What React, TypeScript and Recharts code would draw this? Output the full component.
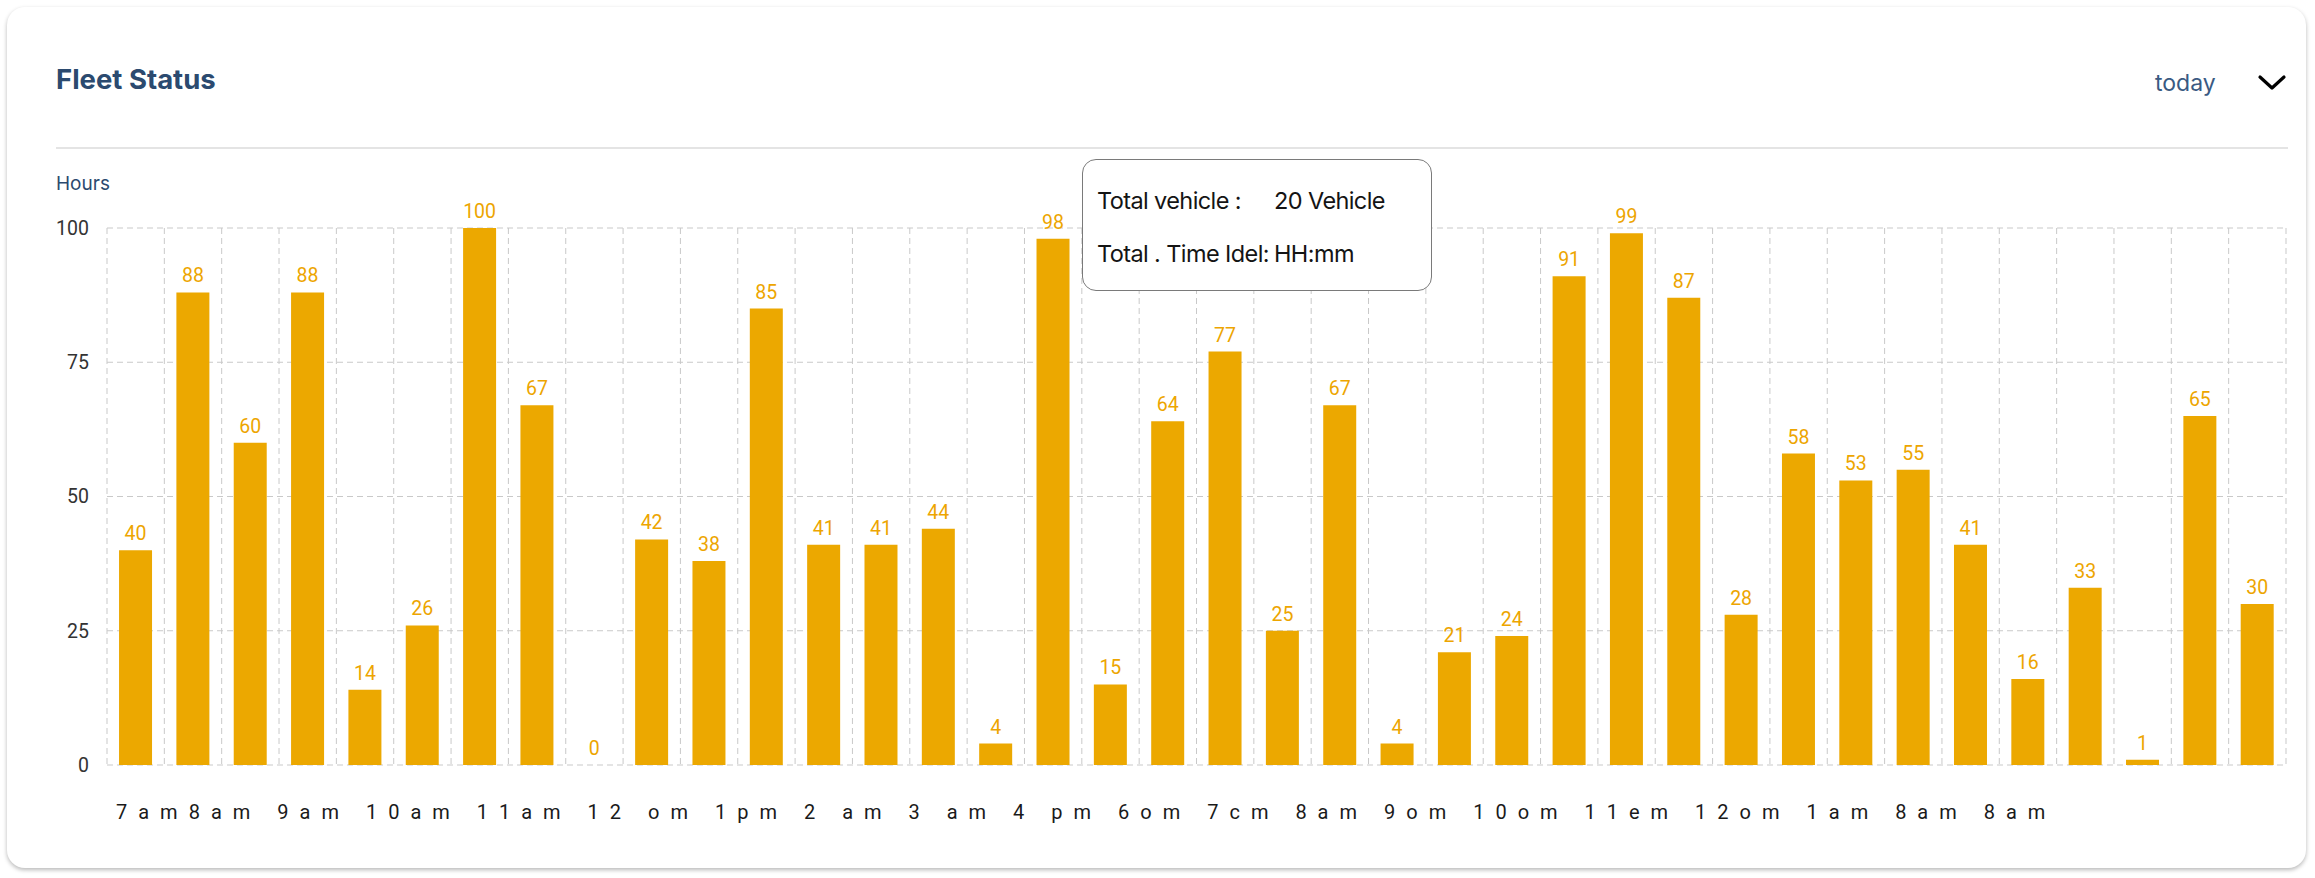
import React from 'react';
import { BarChart, Bar, XAxis, YAxis, CartesianGrid, Tooltip, LabelList } from 'recharts';

// idle hours per slot, left to right
const idleHours = [
    40, 88, 60, 88, 14, 26, 100, 67, 0, 42, 38, 85, 41, 41, 44, 4, 98, 15, 64,
    77, 25, 67, 4, 21, 24, 91, 99, 87, 28, 58, 53, 55, 41, 16, 33, 1, 65, 30,
];
const yTicks = [0, 25, 50, 75, 100];
const timeLabels = [
    '7am8am', '9am', '10am', '11am', '12 om', '1pm', '2 am', '3 am', '4 pm', '6om',
    '7cm', '8am', '9om', '10om', '11em', '12om', '1am', '8am', '8am',
];
const tooltipRows = [
    ['Total vehicle :', '20 Vehicle'],
    ['Total . Time Idel:', 'HH:mm'],
];
const activeSlot = 16;

const BAR_COLOR = '#ECA800';
const NAVY = '#2B4A6F';

const data = idleHours.map((value, i) => ({ slot: `s${i}`, value }));

const FleetTooltip = ({ active }: any) => {
    if (!active) return null;
    return (
        <div
            style={{
                width: 350,
                height: 132,
                boxSizing: 'border-box',
                background: '#fff',
                border: '1.5px solid #7a7a7a',
                borderRadius: 14,
                fontFamily: 'Inter, sans-serif',
                fontSize: 23.5,
                letterSpacing: -0.6,
                color: '#141414',
                position: 'relative',
            }}
        >
            {tooltipRows.map(([label, value], i) => (
                <div key={i} style={{ position: 'absolute', top: 27 + i * 53, left: 14, width: 330, height: 28, lineHeight: '28px', whiteSpace: 'nowrap' }}>
                    <span>{label}</span>
                    <span style={{ position: 'absolute', left: 177, top: 0 }}>{value}</span>
                </div>
            ))}
        </div>
    );
};

// plain <text> so that a zero value still gets its label
const ValueLabel = (props: any) => {
    const { x, y, width, value } = props;
    return (
        <text
            x={x + width / 2}
            y={y - 10}
            textAnchor="middle"
            fill="#EDA500"
            fontSize={19.5}
            fontFamily="Roboto, sans-serif"
        >
            {value}
        </text>
    );
};

const App: React.FC = () => {
    const n = data.length;

    return (
        <div
            style={{
                position: 'absolute',
                left: 7,
                top: 7,
                width: 2299,
                height: 861,
                background: '#fff',
                borderRadius: 18,
                boxShadow: '0 2px 4px rgba(0,0,0,0.28)',
            }}
        >
            <div style={{ position: 'absolute', left: 49, top: 59, fontFamily: 'Inter, sans-serif', fontWeight: 700, fontSize: 27.5, lineHeight: '27px', color: NAVY }}>
                Fleet Status
            </div>
            <div style={{ position: 'absolute', left: 2148, top: 65, fontFamily: 'Inter, sans-serif', fontSize: 23, lineHeight: '23px', color: '#3A5A82' }}>
                today
            </div>
            <svg style={{ position: 'absolute', left: 2250, top: 66 }} width="30" height="20">
                <polyline points="3,4 15,15 27,4" fill="none" stroke="#000" strokeWidth="3.2" strokeLinecap="round" strokeLinejoin="round" />
            </svg>
            <div style={{ position: 'absolute', left: 49, top: 140, width: 2232, height: 2, background: '#E4E4E4' }} />
            <div style={{ position: 'absolute', left: 49, top: 167, fontFamily: 'Inter, sans-serif', fontSize: 19, lineHeight: '19px', color: NAVY }}>
                Hours
            </div>

            <div style={{ position: 'absolute', left: 0, top: 140 }}>
                <BarChart
                    width={2299}
                    height={660}
                    data={data}
                    margin={{ top: 81, right: 20, bottom: 42, left: 0 }}
                    barCategoryGap="21%"
                >
                    <CartesianGrid
                        stroke="#C9C9C9"
                        strokeDasharray="6 4"
                        verticalCoordinatesGenerator={({ offset }: any) =>
                            Array.from({ length: n + 1 }, (_, i) => offset.left + (i * offset.width) / n)
                        }
                    />
                    <XAxis dataKey="slot" hide />
                    <YAxis
                        width={100}
                        domain={[0, 100]}
                        ticks={yTicks}
                        axisLine={false}
                        tickLine={false}
                        tickMargin={12}
                        tick={{ fill: '#333', fontSize: 19.5, fontFamily: 'Roboto, sans-serif' }}
                    />
                    <Tooltip
                        active
                        defaultIndex={activeSlot}
                        cursor={false}
                        isAnimationActive={false}
                        position={{ x: 1075, y: 12 }}
                        content={<FleetTooltip />}
                    />
                    <Bar dataKey="value" fill={BAR_COLOR} minPointSize={0.01} isAnimationActive={false}>
                        <LabelList dataKey="value" content={<ValueLabel />} />
                    </Bar>
                </BarChart>
            </div>

            <div
                style={{
                    position: 'absolute',
                    left: 109,
                    top: 795,
                    fontFamily: 'Roboto, sans-serif',
                    fontSize: 20,
                    lineHeight: '20px',
                    letterSpacing: 11,
                    color: '#1A1A1A',
                    whiteSpace: 'pre',
                }}
            >
                {timeLabels.join(' ')}
            </div>
        </div>
    );
};

export default App;
